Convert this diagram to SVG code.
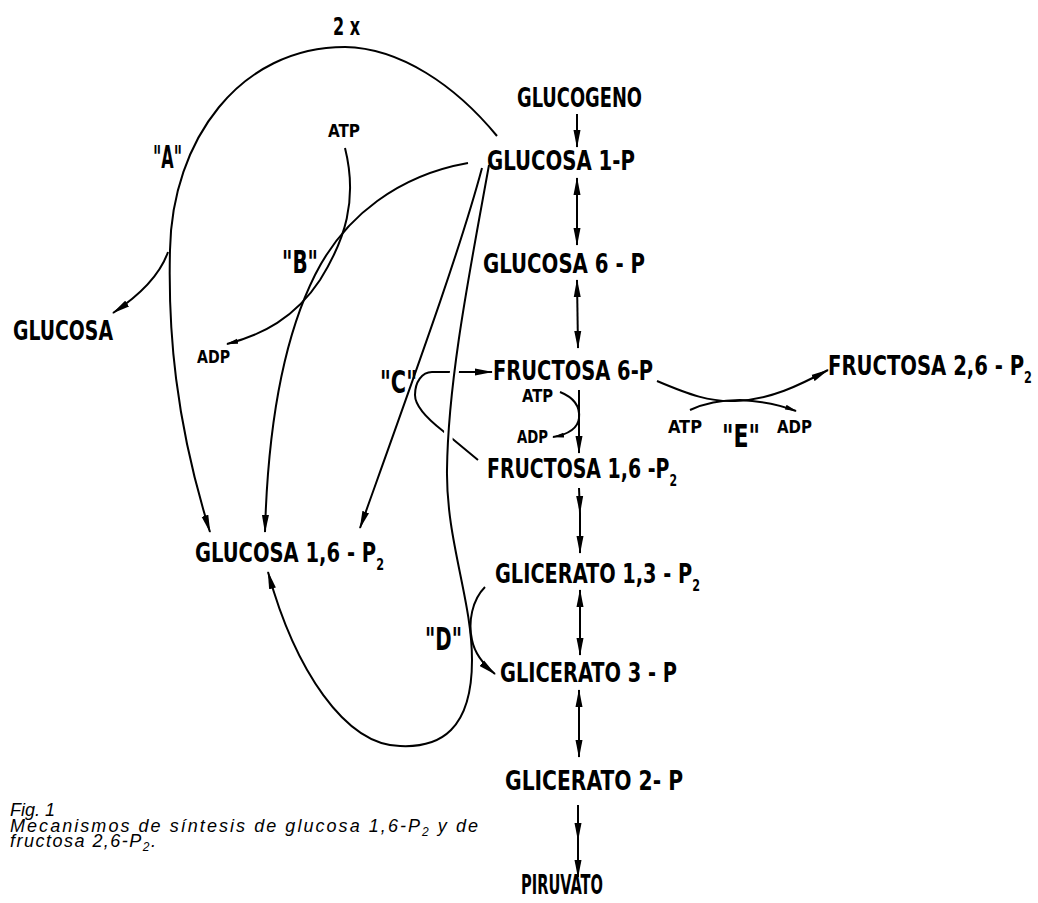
<svg xmlns="http://www.w3.org/2000/svg" width="1038" height="903" viewBox="0 0 1038 903">
<defs>
<style>
.t{font-family:"Liberation Sans Narrow","DejaVu Sans Condensed","Liberation Sans",sans-serif;font-weight:bold;font-size:26px;fill:#000}
.sub{font-size:15px}
.big{font-size:32px}
.sm{font-size:17px}
.cap{font-family:"Liberation Sans",sans-serif;font-style:italic;font-size:18px;fill:#000}
.capsub{font-size:12px}
.ln{fill:none;stroke:#000;stroke-width:2}
.halo{fill:none;stroke:#fff;stroke-width:9}
</style>
<marker id="ah" viewBox="0 0 18 8" refX="17" refY="4" markerWidth="18" markerHeight="8" markerUnits="userSpaceOnUse" orient="auto-start-reverse"><path d="M0,0.5 L18,4 L0,7.5 z" fill="#000"/></marker>
<marker id="sa" viewBox="0 0 12 6" refX="11" refY="3" markerWidth="12" markerHeight="6" markerUnits="userSpaceOnUse" orient="auto-start-reverse"><path d="M0,0.5 L12,3 L0,5.5 z" fill="#000"/></marker>
</defs>
<rect width="1038" height="903" fill="#fff"/>

<g id="connectors">
<path class="ln" d="M577,114 L577,147" marker-end="url(#ah)"/>
<path class="ln" d="M577,178 L577,245" marker-start="url(#ah)" marker-end="url(#ah)"/>
<path class="ln" d="M577,280 L578,348" marker-start="url(#ah)" marker-end="url(#ah)"/>
<path class="ln" d="M579,390 L579,453" marker-end="url(#ah)"/>
<path class="ln" d="M579,488 L580,513 L580,553" marker-mid="url(#ah)" marker-end="url(#ah)"/>
<path class="ln" d="M580,590 L580,655" marker-start="url(#ah)" marker-end="url(#ah)"/>
<path class="ln" d="M579,690 L579,757" marker-start="url(#ah)" marker-end="url(#ah)"/>
<path class="ln" d="M578,805 L578,840 L578,877" marker-mid="url(#ah)" marker-end="url(#ah)"/>
<path class="ln" d="M497,136 C455,85 400,48 345,47 C240,47 172,140 170,250 C168,330 175,420 210,532" marker-end="url(#ah)"/>
<path class="ln" d="M168,252 C160,275 140,295 113,313" marker-end="url(#ah)"/>
<path class="ln" d="M468,163 C400,175 345,215 315,275 C285,335 268,420 265,532" marker-end="url(#ah)"/>
<path class="ln" d="M345,148 C358,200 345,240 320,280 C295,318 262,335 227,344" marker-end="url(#sa)"/>
<path class="ln" d="M482,168 C460,250 420,360 360,528" marker-end="url(#ah)"/>
<path class="ln" d="M478,460 L443,431 C425,417 415,405 415,395 C415,382 422,372 432,372 L492,372" marker-end="url(#ah)"/>
<path class="ln" d="M560,392 C575,398 580,408 579,418 C578,428 570,434 553,437" marker-end="url(#sa)"/>
<path class="halo" d="M487,180 C470,270 448,380 447,470"/>
<path class="ln" d="M489,165 C470,270 448,380 447,470 C446,540 472,600 472,660 C472,730 440,748 400,746 C345,745 295,670 268,572" marker-end="url(#ah)"/>
<path class="ln" d="M485,587 C472,600 468,622 472,640 C475,655 484,665 495,674" marker-end="url(#ah)"/>
<path class="ln" d="M657,381 C690,395 710,402 735,401 C770,400 800,385 828,370" marker-end="url(#ah)"/>
<path class="ln" d="M690,410 C705,403 720,400 740,400 C760,401 780,405 796,411" marker-end="url(#sa)"/>
</g>

<g id="glucogeno"><text class="t" x="517" y="107" textLength="125" lengthAdjust="spacingAndGlyphs">GLUCOGENO</text></g>
<g id="glucosa1p"><text class="t" x="487" y="170" textLength="148" lengthAdjust="spacingAndGlyphs">GLUCOSA 1-P</text></g>
<g id="glucosa6p"><text class="t" x="483" y="273" textLength="162" lengthAdjust="spacingAndGlyphs">GLUCOSA 6 - P</text></g>
<g id="fructosa6p"><text class="t" x="493" y="380" textLength="160" lengthAdjust="spacingAndGlyphs">FRUCTOSA 6-P</text></g>
<g id="fructosa16p2"><text class="t" x="487" y="478" textLength="190" lengthAdjust="spacingAndGlyphs">FRUCTOSA 1,6 -P<tspan class="sub" dy="8">2</tspan></text></g>
<g id="glucosa16p2"><text class="t" x="195" y="562" textLength="189" lengthAdjust="spacingAndGlyphs">GLUCOSA 1,6 - P<tspan class="sub" dy="8">2</tspan></text></g>
<g id="glicerato13p2"><text class="t" x="495" y="583" textLength="205" lengthAdjust="spacingAndGlyphs">GLICERATO 1,3 - P<tspan class="sub" dy="8">2</tspan></text></g>
<g id="glicerato3p"><text class="t" x="500" y="682" textLength="177" lengthAdjust="spacingAndGlyphs">GLICERATO 3 - P</text></g>
<g id="glicerato2p"><text class="t" x="505" y="790" textLength="178" lengthAdjust="spacingAndGlyphs">GLICERATO 2- P</text></g>
<g id="piruvato"><text class="t" x="521" y="894" textLength="82" lengthAdjust="spacingAndGlyphs">PIRUVATO</text></g>
<g id="glucosa"><text class="t" x="13" y="340" textLength="100" lengthAdjust="spacingAndGlyphs">GLUCOSA</text></g>
<g id="fructosa26p2"><text class="t" transform="translate(828,375) scale(0.85,1)" x="0" y="0" textLength="240" lengthAdjust="spacingAndGlyphs">FRUCTOSA 2,6 - P<tspan class="sub" dy="8">2</tspan></text></g>

<g id="label-2x"><text class="t" style="font-size:25px" x="333" y="35" textLength="27" lengthAdjust="spacingAndGlyphs">2 x</text></g>
<g id="label-A"><text class="t big" x="153" y="168" textLength="29" lengthAdjust="spacingAndGlyphs">"A"</text></g>
<g id="label-B"><text class="t big" x="282" y="273" textLength="36" lengthAdjust="spacingAndGlyphs">"B"</text></g>
<g id="label-C"><text class="t big" x="380" y="393" textLength="37" lengthAdjust="spacingAndGlyphs">"C"</text></g>
<g id="label-D"><text class="t big" x="425" y="650" textLength="37" lengthAdjust="spacingAndGlyphs">"D"</text></g>
<g id="label-E"><text class="t big" x="722" y="447" textLength="38" lengthAdjust="spacingAndGlyphs">"E"</text></g>

<g id="atp-b"><text class="t sm" x="328" y="137" textLength="32" lengthAdjust="spacingAndGlyphs">ATP</text></g>
<g id="adp-b"><text class="t sm" x="197" y="363" textLength="33" lengthAdjust="spacingAndGlyphs">ADP</text></g>
<g id="atp-c"><text class="t sm" x="522" y="402" textLength="31" lengthAdjust="spacingAndGlyphs">ATP</text></g>
<g id="adp-c"><text class="t sm" x="517" y="443" textLength="31" lengthAdjust="spacingAndGlyphs">ADP</text></g>
<g id="atp-e"><text class="t sm" x="668" y="433" textLength="34" lengthAdjust="spacingAndGlyphs">ATP</text></g>
<g id="adp-e"><text class="t sm" x="777" y="433" textLength="35" lengthAdjust="spacingAndGlyphs">ADP</text></g>

<g id="caption">
<text class="cap" x="10" y="816" textLength="45" lengthAdjust="spacing">Fig. 1</text>
<text class="cap" x="10" y="832" textLength="468" lengthAdjust="spacing">Mecanismos de síntesis de glucosa 1,6-P<tspan class="capsub" dy="4">2</tspan><tspan dy="-4"> y de</tspan></text>
<text class="cap" x="10" y="847" textLength="146" lengthAdjust="spacing">fructosa 2,6-P<tspan class="capsub" dy="4">2</tspan><tspan dy="-4">.</tspan></text>
</g>
</svg>
